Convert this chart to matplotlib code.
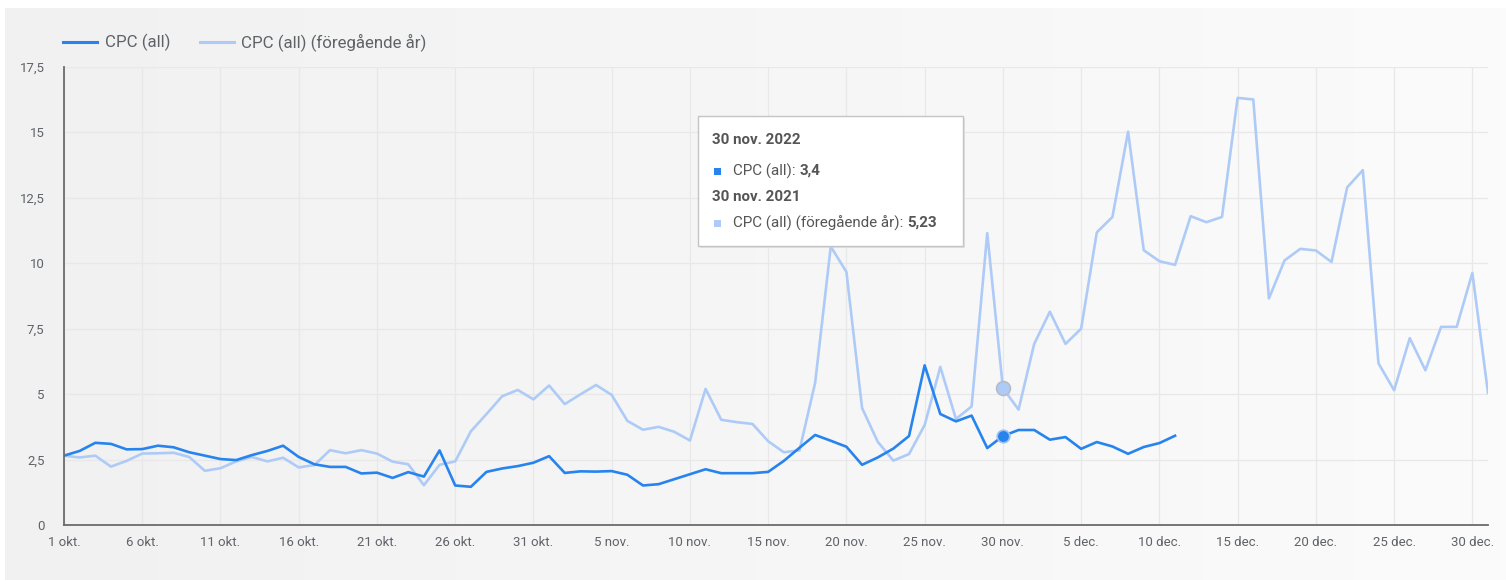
import matplotlib
matplotlib.use("Agg")
import matplotlib.pyplot as plt
from matplotlib.patches import FancyBboxPatch, Rectangle
from matplotlib.lines import Line2D
from matplotlib.colors import LinearSegmentedColormap
import numpy as np
import pandas as pd

plt.rcParams['font.family'] = ['Roboto', 'DejaVu Sans']

# ---- data ----
dates_current = pd.date_range("2022-10-01", "2022-12-11", freq="D")
cpc_current = [
    2.65, 2.83, 3.14, 3.10, 2.89, 2.90, 3.03, 2.97, 2.78, 2.65, 2.52, 2.48, 2.67, 2.83, 3.03, 2.60,
    2.32, 2.22, 2.22, 1.97, 2.00, 1.80, 2.02, 1.85, 2.85, 1.51, 1.46, 2.03, 2.16, 2.25, 2.38,
    2.63, 1.99, 2.05, 2.04, 2.06, 1.92, 1.51, 1.56, 1.75, 1.94, 2.13, 1.98, 1.98, 1.98, 2.03,
    2.45, 2.95, 3.44, 3.22, 2.99, 2.30, 2.58, 2.92, 3.40, 6.10, 4.24, 3.96, 4.18, 2.94, 3.40,
    3.63, 3.63, 3.26, 3.36, 2.91, 3.17, 3.00, 2.72, 2.98, 3.13, 3.41,
]
dates_previous = pd.date_range("2022-10-01", "2022-12-31", freq="D")
cpc_previous = [
    2.65, 2.58, 2.65, 2.23, 2.45, 2.73, 2.74, 2.76, 2.60, 2.07, 2.17, 2.43, 2.60, 2.43, 2.57, 2.20,
    2.29, 2.86, 2.74, 2.86, 2.73, 2.42, 2.32, 1.52, 2.30, 2.43, 3.58, 4.24, 4.92, 5.16, 4.80,
    5.33, 4.62, 4.99, 5.35, 4.97, 3.98, 3.64, 3.75, 3.56, 3.23, 5.20, 4.02, 3.93, 3.86, 3.20,
    2.78, 2.85, 5.43, 10.64, 9.67, 4.47, 3.18, 2.46, 2.71, 3.82, 6.04, 4.05, 4.53, 11.15, 5.23,
    4.41, 6.92, 8.15, 6.92, 7.50, 11.18, 11.77, 15.03, 10.50, 10.08, 9.94, 11.80, 11.57, 11.77,
    16.32, 16.26, 8.66, 10.11, 10.55, 10.49, 10.05, 12.90, 13.56, 6.18, 5.15, 7.14, 5.91, 7.57,
    7.57, 9.63, 5.05,
]
x_tick_dates = pd.date_range("2022-10-01", "2022-12-30", freq="5D")
x_tick_labels = ["1 okt.", "6 okt.", "11 okt.", "16 okt.", "21 okt.", "26 okt.", "31 okt.",
                 "5 nov.", "10 nov.", "15 nov.", "20 nov.", "25 nov.", "30 nov.",
                 "5 dec.", "10 dec.", "15 dec.", "20 dec.", "25 dec.", "30 dec."]
y_ticks = [0, 2.5, 5, 7.5, 10, 12.5, 15, 17.5]
y_tick_labels = ["0", "2,5", "5", "7,5", "10", "12,5", "15", "17,5"]
series_names = ["CPC (all)", "CPC (all) (föregående år)"]
hover_date = pd.Timestamp("2022-11-30")
tooltip_title_current = "30 nov. 2022"
tooltip_title_previous = "30 nov. 2021"
tooltip_value_current = "3,4"
tooltip_value_previous = "5,23"

DARK = "#2784ee"
LIGHT = "#aecbf7"

W, H = 1506, 580
fig = plt.figure(figsize=(W / 100, H / 100), dpi=100, facecolor="white")
renderer = fig.canvas.get_renderer()

def fx(x):
    return x / W

def fy(y):
    return 1 - y / H

# background card with gradient
bg = fig.add_axes([fx(5), 0, 1 - fx(5), 1 - 8 / H], zorder=-10)
grad = np.linspace(0, 1, 256).reshape(1, -1)
cmap = LinearSegmentedColormap.from_list("bg", ["#f1f1f1", "#fbfbfb"])
bg.imshow(grad, aspect="auto", cmap=cmap, extent=[0, 1, 0, 1])
bg.set_axis_off()

ax = fig.add_axes([fx(64), 1 - 525 / H, (1488 - 64) / W, (525 - 67) / H])
ax.set_facecolor("none")

ax.plot(dates_previous, cpc_previous, color=LIGHT, lw=1.9, zorder=3)
ax.plot(dates_current, cpc_current, color=DARK, lw=1.9, zorder=4)

# hover markers
i_prev = list(dates_previous).index(hover_date)
i_cur = list(dates_current).index(hover_date)
ax.plot([dates_previous[i_prev]], [cpc_previous[i_prev]], marker="o", ms=10,
        mfc=LIGHT, mec="#b5bcc7", mew=1.2, zorder=6)
ax.plot([dates_current[i_cur]], [cpc_current[i_cur]], marker="o", ms=9,
        mfc=DARK, mec="#9dc0f0", mew=1.2, zorder=6)

ax.set_xlim(dates_previous[0], dates_previous[-1])
ax.set_ylim(0, 17.5)
ax.set_xticks(x_tick_dates)
ax.set_xticklabels(x_tick_labels)
ax.set_yticks(y_ticks)
ax.set_yticklabels(y_tick_labels)
ax.tick_params(axis="both", length=0, labelsize=9.5, labelcolor="#5f6368")
ax.tick_params(axis="x", pad=8)
ax.tick_params(axis="y", pad=14)
ax.grid(True, color="#e8e8e8", lw=0.9, zorder=0)
for s in ["top", "right"]:
    ax.spines[s].set_visible(False)
for s in ["left", "bottom"]:
    ax.spines[s].set_color("#6b6b6b")
    ax.spines[s].set_linewidth(1.3)
    ax.spines[s].set_zorder(5)

# legend (manual, figure coordinates)
fig.add_artist(Line2D([fx(63), fx(97)], [fy(42), fy(42)], color=DARK, lw=2.2))
fig.text(fx(105), fy(42), series_names[0], fontsize=12.2, color="#5f6368", va="center")
fig.add_artist(Line2D([fx(200), fx(234)], [fy(42), fy(42)], color=LIGHT, lw=2.2))
fig.text(fx(241), fy(42), series_names[1], fontsize=12.2, color="#5f6368", va="center")

# tooltip
shadow = FancyBboxPatch((fx(700), fy(248)), fx(265), 130 / H, boxstyle="square,pad=0",
                        transform=fig.transFigure, fc="#d0d0d0", ec="none", alpha=0.5, zorder=20)
fig.add_artist(shadow)
box = FancyBboxPatch((fx(698), fy(246)), fx(265), 130 / H, boxstyle="square,pad=0",
                     transform=fig.transFigure, fc="white", ec="#c4c4c4", lw=1.0, zorder=21)
fig.add_artist(box)
tc = "#555555"
FS = 10.9

def label_value(x_px, y_px, label, value):
    t = fig.text(fx(x_px), fy(y_px), label + ":", fontsize=FS, color=tc, va="center", zorder=22)
    w = t.get_window_extent(renderer=renderer).width
    fig.text(fx(x_px + w + 4), fy(y_px), value, fontsize=FS, fontweight="bold", color=tc,
             va="center", zorder=22)

fig.text(fx(712), fy(140), tooltip_title_current, fontsize=FS, fontweight="bold", color=tc,
         va="center", zorder=22)
fig.add_artist(Rectangle((fx(714), fy(174.5)), fx(7), 7 / H, transform=fig.transFigure,
                         fc=DARK, ec="none", zorder=22))
label_value(733, 171, series_names[0], tooltip_value_current)
fig.text(fx(712), fy(197), tooltip_title_previous, fontsize=FS, fontweight="bold", color=tc,
         va="center", zorder=22)
fig.add_artist(Rectangle((fx(714), fy(226.5)), fx(7), 7 / H, transform=fig.transFigure,
                         fc=LIGHT, ec="none", zorder=22))
label_value(733, 223, series_names[1], tooltip_value_previous)

fig.savefig("out.png", dpi=100, facecolor="white")
